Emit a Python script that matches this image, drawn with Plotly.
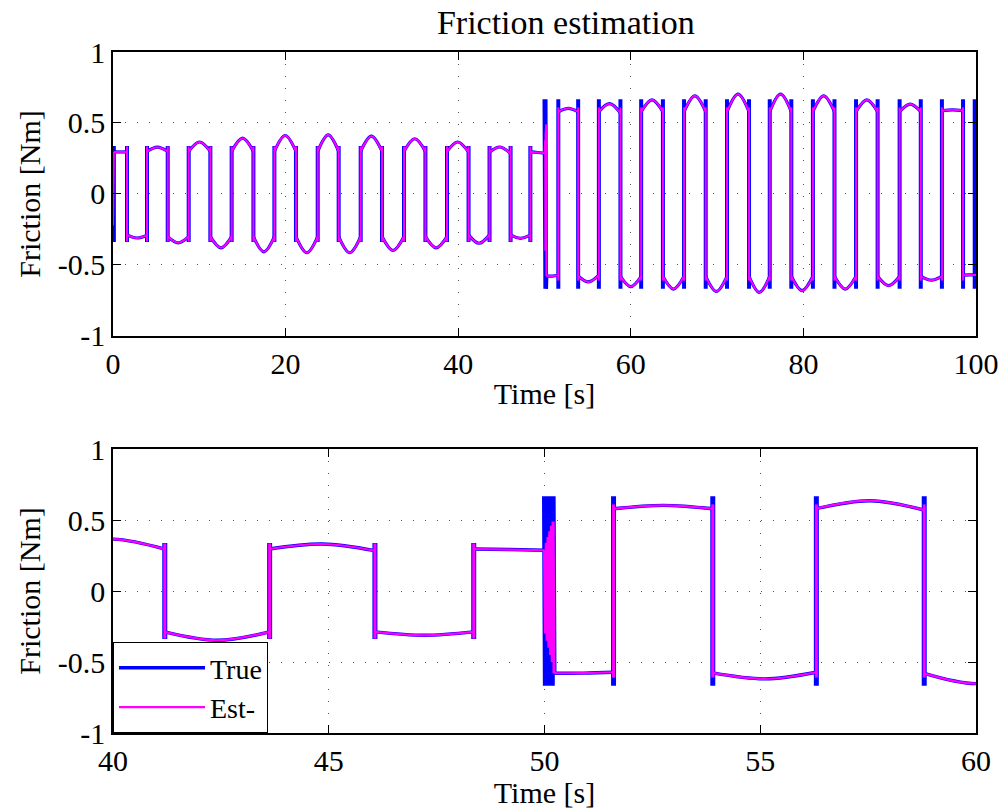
import plotly.graph_objects as go
from plotly.subplots import make_subplots

# ---------------- data ----------------
# Each friction segment between two direction changes: start time, end time,
# value at start, value at the middle (hump), value at end  [Nm]
seg_t0 = [0.10, 1.62, 3.94, 6.34, 8.77, 11.28, 13.75, 16.27, 18.70, 21.20,
          23.72, 26.15, 28.70, 31.17, 33.72, 36.20, 38.70, 41.20, 43.63, 46.07,
          48.36, 50.22, 51.60, 53.90, 56.30, 58.80, 61.20, 63.72, 66.17, 68.68,
          71.15, 73.70, 76.10, 78.60, 81.10, 83.60, 86.10, 88.60, 91.15, 93.60,
          96.05, 98.50]
seg_t1 = [1.62, 3.94, 6.34, 8.77, 11.28, 13.75, 16.27, 18.70, 21.20, 23.72,
          26.15, 28.70, 31.17, 33.72, 36.20, 38.70, 41.20, 43.63, 46.07, 48.36,
          50.00, 51.60, 53.90, 56.30, 58.80, 61.20, 63.72, 66.17, 68.68, 71.15,
          73.70, 76.10, 78.60, 81.10, 83.60, 86.10, 88.60, 91.15, 93.60, 96.05,
          98.50, 100.0]
seg_v0 = [0.296, -0.288, 0.300, -0.300, 0.300, -0.300, 0.300, -0.300, 0.300, -0.300,
          0.300, -0.300, 0.300, -0.300, 0.300, -0.300, 0.300, -0.288, 0.296, -0.288,
          0.296, -0.579, 0.579, -0.577, 0.580, -0.580, 0.580, -0.580, 0.580, -0.580,
          0.580, -0.580, 0.580, -0.580, 0.580, -0.580, 0.580, -0.580, 0.580, -0.580,
          0.586, -0.572]
seg_vm = [0.296, -0.310, 0.330, -0.344, 0.366, -0.379, 0.393, -0.407, 0.412, -0.414,
          0.417, -0.414, 0.407, -0.398, 0.389, -0.379, 0.366, -0.347, 0.331, -0.312,
          0.292, -0.578, 0.603, -0.619, 0.636, -0.652, 0.663, -0.670, 0.691, -0.686,
          0.703, -0.693, 0.703, -0.681, 0.691, -0.670, 0.663, -0.646, 0.633, -0.607,
          0.593, -0.570]
seg_v1 = [0.296, -0.290, 0.300, -0.300, 0.300, -0.300, 0.300, -0.300, 0.300, -0.300,
          0.300, -0.300, 0.300, -0.300, 0.300, -0.300, 0.295, -0.288, 0.284, -0.288,
          0.287, -0.572, 0.579, -0.572, 0.570, -0.580, 0.580, -0.580, 0.580, -0.580,
          0.580, -0.580, 0.580, -0.580, 0.580, -0.580, 0.580, -0.580, 0.580, -0.580,
          0.586, -0.570]

# direction changes (stiction spikes) and their peak levels
switch_low = [0.10, 1.62, 3.94, 6.34, 8.77, 11.28, 13.75, 16.27, 18.70, 21.20,
              23.72, 26.15, 28.70, 31.17, 33.72, 36.20, 38.70, 41.20, 43.63, 46.07,
              48.36]
switch_high = [51.60, 53.90, 56.30, 58.80, 61.20, 63.72, 66.17, 68.68, 71.15, 73.70,
               76.10, 78.60, 81.10, 83.60, 86.10, 88.60, 91.15, 93.60, 96.05, 98.50]
true_spike_end = [99.85]
true_stiction = [0.338, 0.668]   # first half, second half
est_stiction = [0.335, 0.610]

# chattering when the load changes at t = 50 s
chatter_true_t = [50.00, 50.02, 50.04, 50.06, 50.08, 50.10, 50.12, 50.14, 50.16, 50.18, 50.20, 50.22]
chatter_true_v = [0.668, -0.668, 0.668, -0.668, 0.668, -0.668, 0.668, -0.668, 0.668, -0.668, 0.668, -0.579]
chatter_est_t = [50.00, 50.02, 50.04, 50.06, 50.08, 50.10, 50.12, 50.14, 50.16, 50.18, 50.20, 50.22]
chatter_est_v = [0.287, -0.30, 0.34, -0.35, 0.38, -0.40, 0.42, -0.45, 0.46, -0.50, 0.49, -0.579]

# estimator start-up
init_est_t = [0.00, 0.05, 0.10]
init_est_v = [-0.22, 0.296, 0.296]

top_xticks = [0, 20, 40, 60, 80, 100]
bot_xticks = [40, 45, 50, 55, 60]
yticks = [-1, -0.5, 0, 0.5, 1]
ytick_text = ["-1", "-0.5", "0", "0.5", "1"]

BLUE = "#0000FF"
MAGENTA = "#FF00FF"
FONT = "Liberation Serif"

# ---------------- build trace arrays ----------------
arc_x, arc_y = [], []
for t0, t1, v0, vm, v1 in zip(seg_t0, seg_t1, seg_v0, seg_vm, seg_v1):
    arc_x += [t0, (t0 + t1) / 2, t1, None]
    arc_y += [v0, vm, v1, None]

true_vx, true_vy = [], []
for ts in switch_low:
    true_vx += [ts, ts, None]
    true_vy += [true_stiction[0], -true_stiction[0], None]
for ts in switch_high + true_spike_end:
    true_vx += [ts, ts, None]
    true_vy += [true_stiction[1], -true_stiction[1], None]
true_vx += chatter_true_t + [None]
true_vy += chatter_true_v + [None]

est_vx, est_vy = [], []
for ts in switch_low[1:]:
    est_vx += [ts, ts, None]
    est_vy += [est_stiction[0], -est_stiction[0], None]
for ts in switch_high:
    est_vx += [ts, ts, None]
    est_vy += [est_stiction[1], -est_stiction[1], None]
est_vx += chatter_est_t + [None] + init_est_t
est_vy += chatter_est_v + [None] + init_est_v

fig = make_subplots(rows=2, cols=1, vertical_spacing=0.166)

for row, show, tw, sw, ew, evw in [(1, False, 3.2, 4.0, 2.0, 2.0), (2, True, 3.4, 5.0, 2.2, 3.0)]:
    fig.add_trace(go.Scatter(x=arc_x, y=arc_y, mode="lines", name="True",
                             line=dict(color=BLUE, width=tw, shape="spline"),
                             legendgroup="true", showlegend=show, connectgaps=False),
                  row=row, col=1)
    fig.add_trace(go.Scatter(x=true_vx, y=true_vy, mode="lines", name="True",
                             line=dict(color=BLUE, width=sw),
                             legendgroup="true", showlegend=False, connectgaps=False),
                  row=row, col=1)
    fig.add_trace(go.Scatter(x=arc_x, y=arc_y, mode="lines", name="Est-",
                             line=dict(color=MAGENTA, width=ew, shape="spline"),
                             legendgroup="est", showlegend=show, connectgaps=False),
                  row=row, col=1)
    fig.add_trace(go.Scatter(x=est_vx, y=est_vy, mode="lines", name="Est-",
                             line=dict(color=MAGENTA, width=evw),
                             legendgroup="est", showlegend=False, connectgaps=False),
                  row=row, col=1)

axis_common = dict(showline=True, linecolor="black", linewidth=1.6, mirror="ticks",
                   ticks="inside", ticklen=8, tickcolor="black", tickwidth=1,
                   showgrid=True, gridcolor="#555555", gridwidth=1, griddash="1px,11px",
                   zeroline=False, automargin=False,
                   tickfont=dict(family=FONT, size=30, color="black"))

fig.update_xaxes(**axis_common)
fig.update_yaxes(**axis_common)

label_font = dict(family=FONT, size=30, color="black")
fig.update_xaxes(range=[0, 100], tickvals=top_xticks, row=1, col=1,
                 title=dict(text="Time [s]", font=label_font, standoff=4))
fig.update_xaxes(range=[40, 60], tickvals=bot_xticks, row=2, col=1,
                 title=dict(text="Time [s]", font=label_font, standoff=2))
for r in (1, 2):
    fig.update_yaxes(range=[-1, 1], tickvals=yticks, ticktext=ytick_text, row=r, col=1,
                     title=dict(text="Friction [Nm]", font=label_font, standoff=8))

fig.update_layout(
    width=1005, height=809,
    margin=dict(l=113, r=29, t=52, b=76),
    paper_bgcolor="white", plot_bgcolor="white",
    font=dict(family=FONT, color="black"),
    title=dict(text="Friction estimation", x=0.563, xanchor="center", y=0.973, yanchor="middle",
               font=dict(family=FONT, size=34, color="black")),
    legend=dict(x=0, y=0, xanchor="left", yanchor="bottom", xref="paper", yref="paper",
                bgcolor="white", bordercolor="black", borderwidth=1,
                font=dict(family=FONT, size=28, color="black"), itemwidth=86,
                tracegroupgap=0),
)

fig.write_html("out.html", config={"displayModeBar": False},
               post_script="document.body.style.margin='0px';")
